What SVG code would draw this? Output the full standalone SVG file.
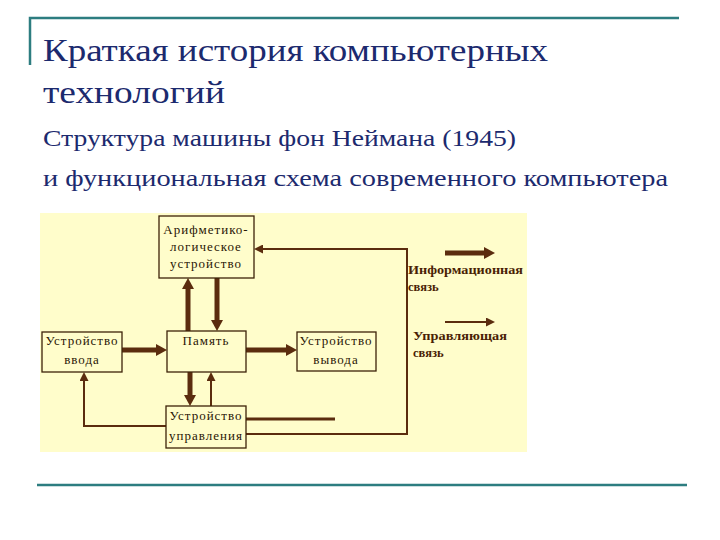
<svg xmlns="http://www.w3.org/2000/svg" width="720" height="540" viewBox="0 0 720 540">
<style>
.frame{stroke:#2d7d80;stroke-width:2.5;fill:none}
.title{font-family:"Liberation Serif","DejaVu Serif",serif;fill:#1c2a6e}
.box{fill:none;stroke:#3d2308;stroke-width:1.3}
.bt{font-family:"Liberation Serif","DejaVu Serif",serif;font-size:13px;fill:#2a1605;text-anchor:middle;letter-spacing:1px}
.thick{stroke:#5b2c0e;stroke-width:5;fill:none}
.thin{stroke:#5b2c0e;stroke-width:2;fill:none}
.mid{stroke:#5b2c0e;stroke-width:3;fill:none}
.lg{font-family:"Liberation Serif","DejaVu Serif",serif;font-size:12.5px;font-weight:bold;fill:#4a1f05}
</style>
<defs>
<marker id="ah" viewBox="0 -6 11 12" markerWidth="11" markerHeight="12" refX="0" refY="0" markerUnits="userSpaceOnUse" orient="auto"><path d="M0,-6 L11,0 L0,6 z" fill="#5b2c0e"/></marker>
<marker id="as" viewBox="0 -4.5 9 9" markerWidth="9" markerHeight="9" refX="0" refY="0" markerUnits="userSpaceOnUse" orient="auto"><path d="M0,-4.5 L9,0 L0,4.5 z" fill="#5b2c0e"/></marker>
</defs>
<rect width="720" height="540" fill="#ffffff"/>
<g id="frame">
<path class="frame" d="M30,65 V18 H679"/>
<line class="frame" x1="37" y1="485" x2="687" y2="485"/>
</g>
<g id="titles">
<text class="title" x="43" y="61" font-size="31" textLength="505" lengthAdjust="spacingAndGlyphs">Краткая история компьютерных</text>
<text class="title" x="43" y="103" font-size="31" textLength="182" lengthAdjust="spacingAndGlyphs">технологий</text>
<text class="title" x="43" y="146" font-size="23" textLength="473" lengthAdjust="spacingAndGlyphs">Структура машины фон Неймана (1945)</text>
<text class="title" x="43" y="186" font-size="23" textLength="625" lengthAdjust="spacingAndGlyphs">и функциональная схема современного компьютера</text>
</g>
<rect id="bg" x="40" y="213" width="487" height="239" fill="#fffdcb"/>
<g id="connectors">
<line class="thick" x1="188" y1="331" x2="188" y2="289" marker-end="url(#ah)"/>
<line class="thick" x1="217" y1="278" x2="217" y2="320" marker-end="url(#ah)"/>
<line class="thick" x1="122" y1="350" x2="156" y2="350" marker-end="url(#ah)"/>
<line class="thick" x1="246" y1="350" x2="286" y2="350" marker-end="url(#ah)"/>
<line class="thick" x1="190" y1="372" x2="190" y2="395" marker-end="url(#ah)"/>
<line class="thin" x1="211" y1="406" x2="211" y2="381" marker-end="url(#as)"/>
<path class="thin" d="M166,426 H84 V381" marker-end="url(#as)"/>
<path class="thin" d="M246,434 H407 V249 H263" marker-end="url(#as)"/>
<line class="mid" x1="246" y1="419" x2="335" y2="419"/>
</g>
<g id="alu">
<rect class="box" x="159" y="216" width="95" height="62"/>
<text class="bt" x="206" y="234">Арифметико-</text>
<text class="bt" x="206" y="251">логическое</text>
<text class="bt" x="206" y="268">устройство</text>
</g>
<g id="memory">
<rect class="box" x="167" y="331" width="79" height="41"/>
<text class="bt" x="206" y="345">Память</text>
</g>
<g id="input">
<rect class="box" x="42" y="332" width="80" height="40"/>
<text class="bt" x="82" y="345">Устройство</text>
<text class="bt" x="82" y="364">ввода</text>
</g>
<g id="output">
<rect class="box" x="297" y="332" width="79" height="39"/>
<text class="bt" x="336" y="345">Устройство</text>
<text class="bt" x="336" y="364">вывода</text>
</g>
<g id="control">
<rect class="box" x="166" y="406" width="80" height="42"/>
<text class="bt" x="206" y="420">Устройство</text>
<text class="bt" x="206" y="440">управления</text>
</g>
<g id="legend">
<line class="thick" x1="445" y1="253" x2="484" y2="253" marker-end="url(#ah)"/>
<text class="lg" x="408" y="274" textLength="115" lengthAdjust="spacingAndGlyphs">Информационная</text>
<text class="lg" x="408" y="291">связь</text>
<line class="thin" x1="445" y1="322" x2="486" y2="322" marker-end="url(#as)"/>
<text class="lg" x="413" y="340" textLength="94" lengthAdjust="spacingAndGlyphs">Управляющая</text>
<text class="lg" x="413" y="357">связь</text>
</g>
</svg>
